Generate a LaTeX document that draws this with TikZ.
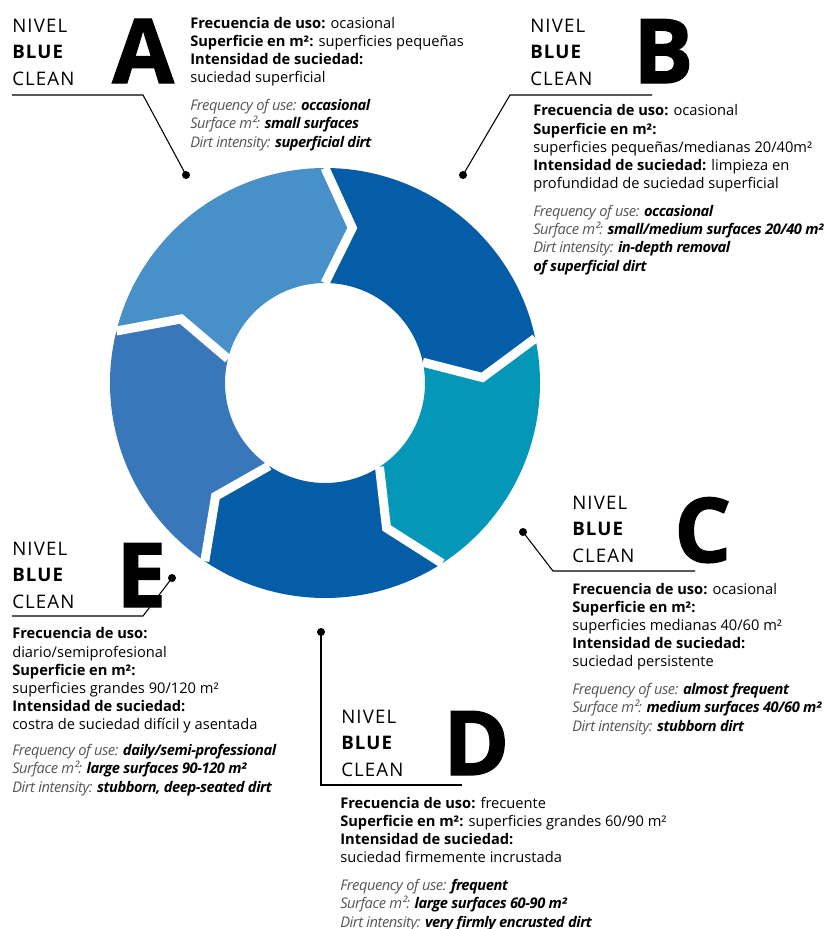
\documentclass[tikz,border=0pt]{standalone}
\usepackage{fontspec}
\setmainfont{Open Sans}
\newfontfamily\nivelfont[LetterSpace=6]{Open Sans}
\newfontfamily\bigfont[BoldFeatures={FakeBold=1.5}]{Open Sans}
\definecolor{segA}{HTML}{4790C8}
\definecolor{segB}{HTML}{055DA8}
\definecolor{segC}{HTML}{0497B7}
\definecolor{segD}{HTML}{055DA8}
\definecolor{segE}{HTML}{3777BA}
\definecolor{engray}{HTML}{555555}
\newcommand{\engval}[1]{{\addfontfeatures{LetterSpace=-3}\textbf{\textit{#1}}}}
\newcommand{\eng}[2]{{\addfontfeatures{LetterSpace=-3}{\color{engray}\itshape #1} \textbf{\textit{#2}}}}
\tikzset{
        nivel/.style={anchor=base west,inner sep=0pt,align=left,font=\nivelfont\fontsize{14}{19.8}\selectfont},
        bigletter/.style={anchor=base west,inner sep=0pt,font=\bigfont\bfseries\fontsize{67}{67}\selectfont},
        info/.style={anchor=base west,inner sep=0pt,align=left,font=\fontsize{11}{13.6}\selectfont},
        dot/.style={circle,fill,inner sep=0pt,minimum size=6pt},
        leader/.style={line width=.8pt},
        gap/.style={white,line width=6.75pt,line cap=square,line join=miter}
    }
\begin{document}
\begin{tikzpicture}[x=.75pt,y=.75pt]
\useasboundingbox (0,0) rectangle (826,-929);

\begin{scope}[shift={(325,-383)}]
\foreach \s/\e/\c in {166/90/segA,90/12/segB,12/-57/segC,-57/-124/segD,-124/-194/segE}
  \fill[\c] (\s:215) arc[start angle=\s,end angle=\e,radius=215] -- ({\e-10}:157.5) -- (\e:100)
    arc[start angle=\e,end angle=\s,radius=100] -- ({\s-10}:157.5) -- cycle;
\foreach \b in {90,12,-57,-124,166}
  \draw[gap] (\b:215) -- ({\b-10}:157.5) -- (\b:100);
\end{scope}

\draw (12,-85) node(NIVA)[nivel]{NIVEL\\\textbf{BLUE}\\CLEAN};
\draw (112,-83) node(BIGA)[bigletter]{A};
\draw (190,-147) node(TXTA)[info]{\textbf{Frecuencia de uso:} ocasional\\
\textbf{Superficie en m²:} superficies pequeñas\\
\textbf{Intensidad de suciedad:}\\
suciedad superficial\\[7.5pt]
\eng{Frequency of use:}{occasional}\\
\eng{Surface m²:}{small surfaces}\\
\eng{Dirt intensity:}{superficial dirt}};
\draw (186,-175) node(DOTA)[dot]{};
\coordinate (KNA) at (143,-95);
\coordinate (ENDA) at (12,-95);
\draw[leader] (DOTA.center) -- (KNA) -- (ENDA);

\draw (530,-85) node(NIVB)[nivel]{NIVEL\\\textbf{BLUE}\\CLEAN};
\draw (633,-83) node(BIGB)[bigletter]{B};
\draw (533,-271) node(TXTB)[info]{\textbf{Frecuencia de uso:} ocasional\\
\textbf{Superficie en m²:}\\
superficies pequeñas/medianas 20/40m²\\
\textbf{Intensidad de suciedad:} limpieza en\\
profundidad de suciedad superficial\\[7.5pt]
\eng{Frequency of use:}{occasional}\\
\eng{Surface m²:}{small/medium surfaces 20/40 m²}\\
\eng{Dirt intensity:}{in-depth removal}\\
\engval{of superficial dirt}};
\draw (463,-175) node(DOTB)[dot]{};
\coordinate (KNB) at (510,-95);
\coordinate (ENDB) at (652,-95);
\draw[leader] (DOTB.center) -- (KNB) -- (ENDB);

\draw (572,-562) node(NIVC)[nivel]{NIVEL\\\textbf{BLUE}\\CLEAN};
\draw (674,-562) node(BIGC)[bigletter]{C};
\draw (572,-731) node(TXTC)[info]{\textbf{Frecuencia de uso:} ocasional\\
\textbf{Superficie en m²:}\\
superficies medianas 40/60 m²\\
\textbf{Intensidad de suciedad:}\\
suciedad persistente\\[7.5pt]
\eng{Frequency of use:}{almost frequent}\\
\eng{Surface m²:}{medium surfaces 40/60 m²}\\
\eng{Dirt intensity:}{stubborn dirt}};
\draw (523,-532) node(DOTC)[dot]{};
\coordinate (KNC) at (553,-571);
\coordinate (ENDC) at (695,-571);
\draw[leader] (DOTC.center) -- (KNC) -- (ENDC);

\draw (341,-776) node(NIVD)[nivel]{NIVEL\\\textbf{BLUE}\\CLEAN};
\draw (443,-775) node(BIGD)[bigletter]{D};
\draw (340,-927) node(TXTD)[info]{\textbf{Frecuencia de uso:} frecuente\\
\textbf{Superficie en m²:} superficies grandes 60/90 m²\\
\textbf{Intensidad de suciedad:}\\
suciedad firmemente incrustada\\[7.5pt]
\eng{Frequency of use:}{frequent}\\
\eng{Surface m²:}{large surfaces 60-90 m²}\\
\eng{Dirt intensity:}{very firmly encrusted dirt}};
\draw (321,-632) node(DOTD)[dot]{};
\coordinate (KND) at (321,-785);
\coordinate (ENDD) at (462,-785);
\draw[leader] (DOTD.center) -- (KND) -- (ENDD);

\draw (12,-608) node(NIVE)[nivel]{NIVEL\\\textbf{BLUE}\\CLEAN};
\draw (116,-607) node(BIGE)[bigletter]{E};
\draw (12,-792) node(TXTE)[info]{\textbf{Frecuencia de uso:}\\
diario/semiprofesional\\
\textbf{Superficie en m²:}\\
superficies grandes 90/120 m²\\
\textbf{Intensidad de suciedad:}\\
costra de suciedad difícil y asentada\\[6pt]
\eng{Frequency of use:}{daily/semi-professional}\\
\eng{Surface m²:}{large surfaces 90-120 m²}\\
\eng{Dirt intensity:}{stubborn, deep-seated dirt}};
\draw (172,-578) node(DOTE)[dot]{};
\coordinate (KNE) at (143,-616);
\coordinate (ENDE) at (12,-616);
\draw[leader] (DOTE.center) -- (KNE) -- (ENDE);

\end{tikzpicture}
\end{document}
